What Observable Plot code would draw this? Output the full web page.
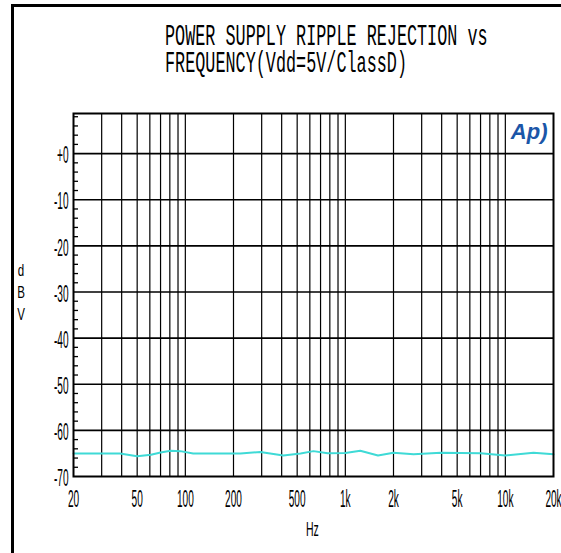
<!DOCTYPE html>
<html><head><meta charset="utf-8">
<script src="https://cdn.jsdelivr.net/npm/d3@7"></script>
<script src="https://cdn.jsdelivr.net/npm/@observablehq/plot@0.6"></script>
<style>
body{margin:0;background:#fff;}
#wrap{position:relative;width:561px;height:553px;overflow:hidden;background:#fff;}
#wrap svg{position:absolute;left:0;top:0;}
.ov{position:absolute;white-space:nowrap;color:#000;transform-origin:0 0;}
.title{left:165px;font-family:"Liberation Mono",monospace;font-size:30px;line-height:26px;transform:scaleX(0.56);}
.ylab{left:16px;top:260px;font-family:"Liberation Sans",sans-serif;font-size:16px;line-height:22px;transform:scaleX(0.72);text-align:center;width:14px;}
.xlab{left:306px;top:517px;font-family:"Liberation Sans",sans-serif;font-size:21px;transform:scaleX(0.5);}
#bl{position:absolute;left:11px;top:4px;width:3px;height:560px;background:#000;}
#bt{position:absolute;left:11px;top:4px;width:560px;height:3px;background:#000;}
</style>
</head><body>
<div id="wrap">
  <div id="bl"></div><div id="bt"></div>
  <div class="ov title" style="top:24px">POWER SUPPLY RIPPLE REJECTION vs</div>
  <div class="ov title" style="top:51px">FREQUENCY(Vdd=5V/ClassD)</div>
  <div class="ov ylab">d<br>B<br>V</div>
  <div class="ov xlab">Hz</div>
</div>
<script>
// measured curve (frequency in Hz, level in dBV)
const freqs = [20, 30, 39, 50, 61, 70, 81, 93, 112, 221, 294, 410, 525, 632, 775, 1000, 1240, 1600, 2000, 2670, 3950, 7000, 10000, 15000, 20000];
const dbv   = [-65.0, -65.0, -65.0, -65.6, -65.3, -64.8, -64.4, -64.5, -65.0, -65.0, -64.7, -65.45, -65.0, -64.5, -64.95, -64.9, -64.4, -65.45, -64.85, -65.2, -64.85, -64.95, -65.45, -64.85, -65.2];

// axes
const xTickValues = [20, 50, 100, 200, 500, 1000, 2000, 5000, 10000, 20000];
const xTickLabels = ["20", "50", "100", "200", "500", "1k", "2k", "5k", "10k", "20k"];
const yTickValues = [0, -10, -20, -30, -40, -50, -60, -70];
const yTickLabels = ["+0", "-10", "-20", "-30", "-40", "-50", "-60", "-70"];
const xGrid = [30, 40, 50, 60, 70, 80, 90, 100, 200, 300, 400, 500, 600, 700, 800, 900, 1000, 2000, 3000, 4000, 5000, 6000, 7000, 8000, 9000, 10000];
const yGrid = [0, -10, -20, -30, -40, -50, -60];
const yMinor = [8, 6, 4, 2, -2, -4, -6, -8, -12, -14, -16, -18, -22, -24, -26, -28, -32, -34, -36, -38, -42, -44, -46, -48, -52, -54, -56, -58, -62, -64, -66, -68];
const yDomain = [-70, 8.7];
const xDomain = [20, 20000];
const logoText = "Ap)";

const data = freqs.map((f, i) => ({f, v: dbv[i]}));
const xTicks = xTickValues.map((f, i) => ({f, label: xTickLabels[i]}));

const chart = Plot.plot({
  width: 561, height: 553,
  marginLeft: 73, marginRight: 8, marginTop: 113, marginBottom: 77,
  x: {type: "log", domain: xDomain, axis: null},
  y: {domain: yDomain},
  style: {fontFamily: "Liberation Sans, Arial, sans-serif", fontSize: "24px", color: "#000", background: "transparent"},
  marks: [
    Plot.ruleX(xGrid, {stroke: "#000", strokeWidth: 1.2, strokeOpacity: 1}),
    Plot.ruleY(yGrid, {stroke: "#000", strokeWidth: 1.6, strokeOpacity: 1}),
    Plot.tickY(yMinor, {y: d => d, stroke: "#000", strokeWidth: 1.3, insetRight: 475}),
    Plot.line(data, {x: "f", y: "v", stroke: "#3fdad6", strokeWidth: 2}),
    Plot.frame({stroke: "#000", strokeWidth: 2}),
    Plot.text(xTicks, {x: "f", text: "label", frameAnchor: "bottom", lineAnchor: "top", dy: 13, fontSize: 24}),
    Plot.axisY(yTickValues, {tickSize: 0, tickPadding: 5, label: null, dy: 2,
      tickFormat: d => yTickLabels[yTickValues.indexOf(d)]}),
    Plot.text([logoText], {frameAnchor: "top-right", dx: -6, dy: 10, fill: "#1b56a8",
      fontSize: 22, fontStyle: "italic", fontWeight: "bold", fontFamily: "Liberation Sans"})
  ]
});

// condense the tick labels like the original instrument font
d3.select(chart).selectAll("text")
  .filter(function() { return this.textContent !== logoText; })
  .each(function() {
    const t = this.getAttribute("transform") || "";
    this.setAttribute("transform", t + " scale(0.42,1)");
  });

document.getElementById("wrap").appendChild(chart);
</script>
</body></html>
